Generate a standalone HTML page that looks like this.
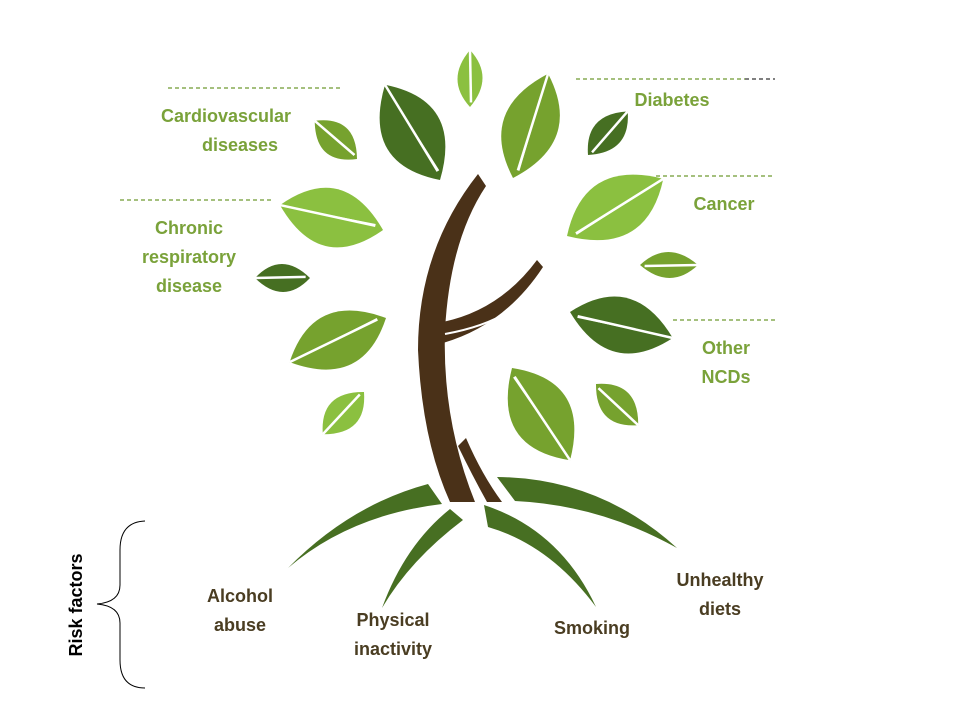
<!DOCTYPE html>
<html><head><meta charset="utf-8"><style>
html,body{margin:0;padding:0;background:#fff;}
svg{display:block}
text{font-family:"Liberation Sans",sans-serif;font-weight:bold;font-size:18px;text-anchor:middle}
.g{fill:#7aa23a}.b{fill:#4a3d22}
</style></head><body>
<svg width="960" height="720" viewBox="0 0 960 720">
<defs>
<g id="lf"><path d="M0,0 Q48,-100 100,0 Q52,100 0,0Z"/><path d="M8,4 L100,0 L8,7Z" fill="#fff"/><line x1="8" y1="4" x2="100" y2="0" stroke="#fff" stroke-width="2.5" vector-effect="non-scaling-stroke"/></g>
</defs>
<g stroke="#6f9a30" stroke-width="1.2" stroke-dasharray="4,3">
<line x1="168" y1="88" x2="342" y2="88"/><line x1="120" y1="200" x2="272" y2="200"/>
<line x1="576" y1="79" x2="745" y2="79"/><line x1="656" y1="176" x2="775" y2="176"/><line x1="673" y1="320" x2="775" y2="320"/>
</g>
<line x1="745" y1="79" x2="775" y2="79" stroke="#000" stroke-dasharray="4,3"/>
<use href="#lf" fill="#8bc040" transform="translate(470,107) rotate(-90) scale(0.57,0.25)"/>
<use href="#lf" fill="#466f22" transform="translate(440,180) rotate(-120) scale(1.1,0.6)"/>
<use href="#lf" fill="#76a22e" transform="translate(513,178) rotate(-71.4) scale(1.1,0.55)"/>
<use href="#lf" fill="#466f22" transform="translate(588,155) rotate(-47.7) scale(0.59,0.3)"/>
<use href="#lf" fill="#76a22e" transform="translate(357,159) rotate(-137.9) scale(0.57,0.32)"/>
<use href="#lf" fill="#8bc040" transform="translate(567,236) rotate(-30.7) scale(1.12,0.58)"/>
<use href="#lf" fill="#8bc040" transform="translate(383,230) rotate(-166.4) scale(1.06,0.58)"/>
<use href="#lf" fill="#466f22" transform="translate(310,278) rotate(180) scale(0.55,0.28)"/>
<use href="#lf" fill="#76a22e" transform="translate(640,265) rotate(0) scale(0.58,0.26)"/>
<use href="#lf" fill="#466f22" transform="translate(570,312) rotate(14.2) scale(1.06,0.55)"/>
<use href="#lf" fill="#76a22e" transform="translate(386,318) rotate(155.4) scale(1.06,0.55)"/>
<use href="#lf" fill="#8bc040" transform="translate(364,392) rotate(134.3) scale(0.59,0.32)"/>
<use href="#lf" fill="#76a22e" transform="translate(512,368) rotate(57.8) scale(1.09,0.6)"/>
<use href="#lf" fill="#76a22e" transform="translate(596,384) rotate(44.3) scale(0.59,0.32)"/>
<g fill="#4a3118">
<path d="M478,174 L486,186 Q450,240 445,330 Q442,420 475,502 L450,502 Q422,440 418,350 Q418,250 478,174Z"/>
<path d="M458,446 Q472,475 487,502 L502,502 Q482,475 466,438Z"/>
<path d="M443,322 Q500,310 537,260 L543,267 Q505,325 443,343Z"/>
</g>
<path d="M445,334 Q495,325 522,302" stroke="#fff" stroke-width="2" fill="none"/>
<g fill="#476f22">
<path d="M428,484 L442,504 Q350,515 288,568 Q350,505 428,484Z"/>
<path d="M450,509 L463,520 Q410,560 382,608 Q405,545 450,509Z"/>
<path d="M484,505 Q560,530 596,607 Q550,545 488,527Z"/>
<path d="M497,477 Q600,478 677,548 Q600,505 515,501Z"/>
</g>
<text class="g" x="226" y="122">Cardiovascular</text><text class="g" x="240" y="151">diseases</text>
<text class="g" x="672" y="106">Diabetes</text>
<text class="g" x="724" y="210">Cancer</text>
<text class="g" x="189" y="234">Chronic</text><text class="g" x="189" y="263">respiratory</text><text class="g" x="189" y="292">disease</text>
<text class="g" x="726" y="354">Other</text><text class="g" x="726" y="383">NCDs</text>
<text class="b" x="240" y="602">Alcohol</text><text class="b" x="240" y="631">abuse</text>
<text class="b" x="393" y="626">Physical</text><text class="b" x="393" y="655">inactivity</text>
<text class="b" x="592" y="634">Smoking</text>
<text class="b" x="720" y="586">Unhealthy</text><text class="b" x="720" y="615">diets</text>
<text x="0" y="0" style="fill:#000" transform="translate(82,605) rotate(-90)">Risk factors</text>
<path d="M145,521 Q120,522 120,550 L120,585 Q120,602 97,604 Q120,606 120,623 L120,660 Q120,688 145,688" fill="none" stroke="#000" stroke-width="1"/>
</svg>
</body></html>
